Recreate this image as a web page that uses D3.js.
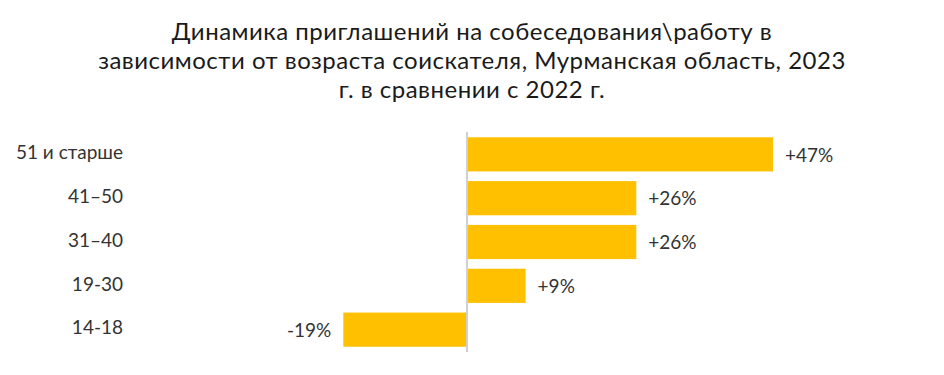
<!DOCTYPE html>
<html>
<head>
<meta charset="utf-8">
<script src="https://d3js.org/d3.v7.min.js"></script>
<style>
  body { margin: 0; background: #fff; }
  text { font-family: Lato, "Open Sans", sans-serif; }
</style>
</head>
<body>
<script>

var titleLines = [
  "Динамика приглашений на собеседования\\работу в",
  "зависимости от возраста соискателя, Мурманская область, 2023",
  "г. в сравнении с 2022 г."
];

var ageGroups = ["51 и старше", "41–50", "31–40", "19-30", "14-18"];
var changePct = [47, 26, 26, 9, -19];
var valueLabels = ["+47%", "+26%", "+26%", "+9%", "-19%"];

var width = 944, height = 375;

var svg = d3.select("body")
            .append("svg")
            .attr("width", width)
            .attr("height", height);

// title
svg.append("g")
   .selectAll("text")
   .data(titleLines).enter()
   .append("text")
   .attr("x", 472)
   .attr("y", function(d, i){ return 40 + i * 29; })
   .attr("text-anchor", "middle")
   .attr("font-size", 24)
   .attr("letter-spacing", 0.5)
   .attr("fill", "#1a1a1a")
   .text(function(d){ return d; });

var data = ageGroups.map(function(g, i){
  return {group: g, value: changePct[i], label: valueLabels[i]};
});

// 0 sits at x=467, 47% ends at 773
var xScale = d3.scaleLinear()
               .domain([-19, 47])
               .range([467 - 19 * 6.51, 773]);

var yScale = d3.scaleBand()
               .domain(ageGroups)
               .range([132, 352])
               .paddingInner(0.22)
               .paddingOuter(0.12);

var chart = svg.append("g");

chart.selectAll("rect")
     .data(data).enter()
     .append("rect")
     .attr("x", function(d){ return xScale(Math.min(0, d.value)); })
     .attr("y", function(d){ return yScale(d.group); })
     .attr("width", function(d){ return Math.abs(xScale(d.value) - xScale(0)); })
     .attr("height", yScale.bandwidth())
     .attr("fill", "#ffc000");

// zero line
chart.append("line")
     .attr("x1", xScale(0)).attr("x2", xScale(0))
     .attr("y1", 132).attr("y2", 352)
     .attr("stroke", "#d0d0d0")
     .attr("stroke-width", 2);

// category labels
var yAxis = d3.axisLeft(yScale).tickSize(0).tickPadding(0);
var axisG = chart.append("g")
     .attr("transform", "translate(123,0)")
     .call(yAxis);
axisG.select(".domain").remove();
axisG.selectAll("text")
     .attr("font-size", 19)
     .attr("font-family", "Lato, sans-serif")
     .attr("fill", "#333")
     .attr("dy", "0.25em");

// value labels
chart.selectAll(".val")
     .data(data).enter()
     .append("text")
     .attr("class", "val")
     .attr("x", function(d){ return d.value >= 0 ? xScale(d.value) + 12 : xScale(d.value) - 12; })
     .attr("y", function(d){ return yScale(d.group) + yScale.bandwidth() / 2; })
     .attr("dy", "0.38em")
     .attr("text-anchor", function(d){ return d.value >= 0 ? "start" : "end"; })
     .attr("font-size", 19)
     .attr("fill", "#333")
     .text(function(d){ return d.label; });

</script>
</body>
</html>
